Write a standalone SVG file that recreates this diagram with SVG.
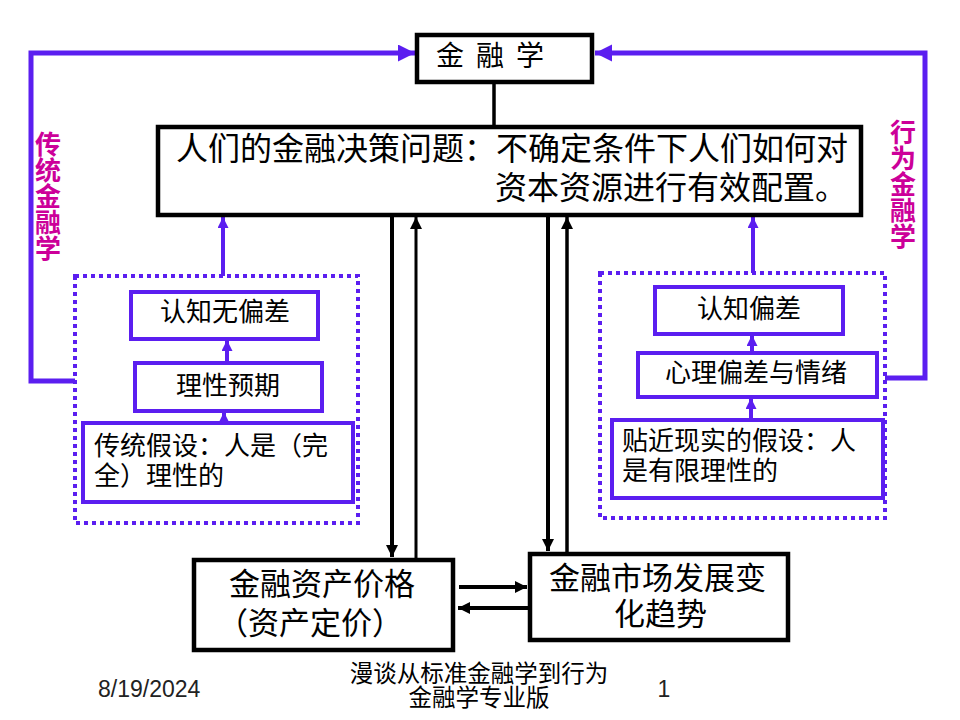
<svg xmlns="http://www.w3.org/2000/svg" width="960" height="720" viewBox="0 0 960 720">
<style>
.t{font-family:"Noto Sans CJK SC","Noto Sans",sans-serif;fill:#000}
.box{fill:#fff;stroke:#000;stroke-width:4.5}
.pbox{fill:#fff;stroke:#5B1EF0;stroke-width:4}
.dot{fill:none;stroke:#5B1EF0;stroke-width:4;stroke-dasharray:4 4}
.pl{fill:none;stroke:#5B1EF0}
.bl{fill:none;stroke:#000}
.side{font-family:"Noto Sans CJK SC",sans-serif;fill:#CC0099;font-size:26px;font-weight:bold;writing-mode:vertical-rl}
</style>
<defs>
<marker id="pbig" markerUnits="userSpaceOnUse" markerWidth="18" markerHeight="18" refX="17" refY="8.5" orient="auto"><path d="M0,0 L17,8.5 L0,17 z" fill="#5B1EF0"/></marker>
<marker id="psm" markerUnits="userSpaceOnUse" markerWidth="12" markerHeight="12" refX="11" refY="5.5" orient="auto"><path d="M0,0 L11,5.5 L0,11 z" fill="#5B1EF0"/></marker>
<marker id="bh" markerUnits="userSpaceOnUse" markerWidth="13" markerHeight="13" refX="12" refY="6" orient="auto"><path d="M0,0 L12,6 L0,12 z" fill="#000"/></marker>
</defs>

<g id="connectors">
<path class="pl" stroke-width="5" d="M75,381 H31 V53 H415" marker-end="url(#pbig)"/>
<path class="pl" stroke-width="5" d="M885,378 H925 V53 H595" marker-end="url(#pbig)"/>
<path class="bl" stroke-width="3.5" d="M494,84 V126"/>
<path class="pl" stroke-width="4" d="M223,276 V217" marker-end="url(#psm)"/>
<path class="pl" stroke-width="4" d="M753,273 V217" marker-end="url(#psm)"/>
<path class="pl" stroke-width="4" d="M227,363 V340" marker-end="url(#psm)"/>
<path class="pl" stroke-width="4" d="M224,423 V412" marker-end="url(#psm)"/>
<path class="pl" stroke-width="4" d="M752,353 V335" marker-end="url(#psm)"/>
<path class="pl" stroke-width="4" d="M751,420 V398" marker-end="url(#psm)"/>
<path class="bl" stroke-width="4" d="M392,217 V557" marker-end="url(#bh)"/>
<path class="bl" stroke-width="3" d="M416,558 V217" marker-end="url(#bh)"/>
<path class="bl" stroke-width="4" d="M548,217 V551" marker-end="url(#bh)"/>
<path class="bl" stroke-width="3.5" d="M567,552 V217" marker-end="url(#bh)"/>
<path class="bl" stroke-width="4" d="M459,587 H527" marker-end="url(#bh)"/>
<path class="bl" stroke-width="4" d="M529,608 H458" marker-end="url(#bh)"/>
</g>

<g id="top">
<rect class="box" x="417" y="35" width="175" height="47"/>
<text class="t" font-size="28" x="436 476 516" y="66">金融学</text>
</g>

<g id="main">
<rect class="box" x="158" y="127" width="703" height="88"/>
<text class="t" font-size="32" x="176" y="160">人们的金融决策问题：不确定条件下人们如何对</text>
<text class="t" font-size="32" x="495" y="199">资本资源进行有效配置。</text>
</g>

<g id="label-left"><text class="side" x="48" y="131">传统金融学</text></g>
<g id="label-right"><text class="side" x="903" y="119">行为金融学</text></g>

<g id="group-left">
<rect class="dot" x="75" y="276" width="283" height="247"/>
</g>
<g id="unbiased">
<rect class="pbox" x="131" y="292" width="187" height="47"/>
<text class="t" font-size="26" x="225" y="321" text-anchor="middle">认知无偏差</text>
</g>
<g id="rational-exp">
<rect class="pbox" x="135" y="363" width="187" height="48"/>
<text class="t" font-size="26" x="228" y="395" text-anchor="middle">理性预期</text>
</g>
<g id="trad-assume">
<rect class="pbox" x="83" y="423" width="270" height="79"/>
<text class="t" font-size="26" x="94" y="455">传统假设：人是（完</text>
<text class="t" font-size="26" x="94" y="485">全）理性的</text>
</g>

<g id="group-right">
<rect class="dot" x="600" y="273" width="285" height="245"/>
</g>
<g id="biased">
<rect class="pbox" x="655" y="287" width="188" height="47"/>
<text class="t" font-size="26" x="749" y="318" text-anchor="middle">认知偏差</text>
</g>
<g id="psych">
<rect class="pbox" x="638" y="353" width="239" height="44"/>
<text class="t" font-size="26" x="665" y="382">心理偏差与情绪</text>
</g>
<g id="real-assume">
<rect class="pbox" x="612" y="420" width="271" height="78"/>
<text class="t" font-size="26" x="622" y="450">贴近现实的假设：人</text>
<text class="t" font-size="26" x="622" y="480">是有限理性的</text>
</g>

<g id="price">
<rect class="box" x="194" y="560" width="259" height="90"/>
<text class="t" font-size="31" x="229" y="595">金融资产价格</text>
<text class="t" font-size="31" x="217" y="634">（资产定价）</text>
</g>
<g id="trend">
<rect class="box" x="530" y="554" width="258" height="86"/>
<text class="t" font-size="31" x="549" y="589">金融市场发展变</text>
<text class="t" font-size="31" x="614" y="625">化趋势</text>
</g>

<g id="footer">
<text font-family="Liberation Sans,Arial,sans-serif" font-size="23" fill="#222" x="98" y="697">8/19/2024</text>
<text class="t" font-size="23.5" fill="#333" x="479" y="682" text-anchor="middle">漫谈从标准金融学到行为</text>
<text class="t" font-size="23.5" fill="#333" x="479" y="706" text-anchor="middle">金融学专业版</text>
<text font-family="Liberation Sans,Arial,sans-serif" font-size="23" fill="#222" x="664" y="697" text-anchor="middle">1</text>
</g>
</svg>
